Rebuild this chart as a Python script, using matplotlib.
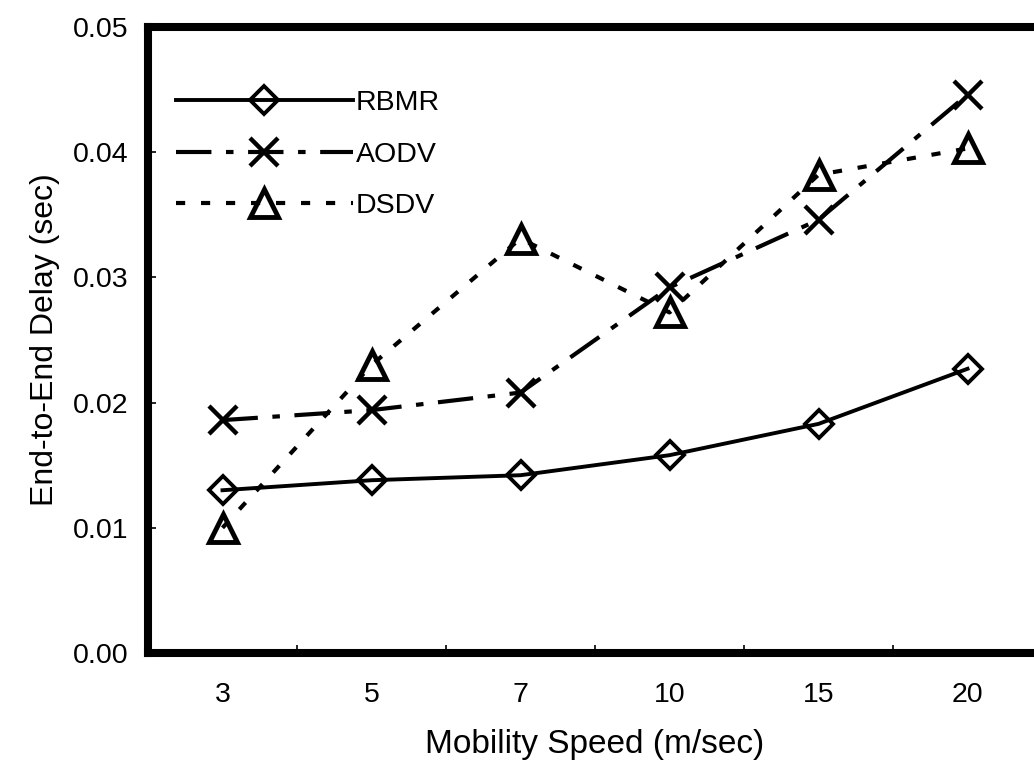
import matplotlib
matplotlib.use('Agg')
import matplotlib.pyplot as plt
from matplotlib.ticker import FixedLocator, FormatStrFormatter

speeds = ['3', '5', '7', '10', '15', '20']
rbmr = [0.0130, 0.0138, 0.0142, 0.0158, 0.0183, 0.0227]
aodv = [0.0186, 0.0194, 0.0208, 0.0292, 0.0346, 0.0446]
dsdv = [0.0100, 0.0230, 0.0331, 0.0272, 0.0382, 0.0403]

plt.rcParams['font.family'] = ['Liberation Sans', 'DejaVu Sans']

fig = plt.figure(figsize=(10.34, 7.67), dpi=100)
# right edge of the frame sits just past the picture, like the original crop
ax = fig.add_axes([148 / 1034, (767 - 653) / 767, (1042 - 148) / 1034, (653 - 27) / 767])

x = list(range(len(speeds)))
ax.plot(x, rbmr, color='black', lw=2.8, marker='D', ms=14, mfc='none', mew=2.8, label='RBMR')
ax.plot(x, aodv, color='black', lw=3, marker='x', ms=20, mew=3.2, dashes=(8.5, 3.5, 1.8, 3.5), label='AODV')
ax.plot(x, dsdv, color='black', lw=3, marker='^', ms=20, mfc='none', mew=3.5, dashes=(2.2, 3.8), label='DSDV')

ax.set_xlim(-0.5, len(speeds) - 0.5)
ax.set_ylim(0, 0.05)
ax.set_xticks(x)
ax.set_xticklabels(speeds)
ax.xaxis.set_minor_locator(FixedLocator([i + 0.5 for i in x[:-1]]))
ax.set_yticks([0, 0.01, 0.02, 0.03, 0.04, 0.05])
ax.yaxis.set_major_formatter(FormatStrFormatter('%.2f'))

ax.tick_params(axis='x', which='major', length=0, pad=21, labelsize=20.5)
ax.tick_params(axis='x', which='minor', direction='in', length=6, width=1.2)
ax.tick_params(axis='y', direction='in', length=6, width=1.2, pad=14, labelsize=20.5)

for s in ax.spines.values():
    s.set_linewidth(5.8)

ax.set_xlabel('Mobility Speed (m/sec)', fontsize=24, labelpad=15)
ax.set_ylabel('End-to-End Delay (sec)', fontsize=23, labelpad=9)

ax.legend(loc='upper left', bbox_to_anchor=(28 / 894, 1 - 63 / 626), frameon=False,
          fontsize=20.5, handlelength=6.2, handletextpad=0.12, labelspacing=0.9,
          borderpad=0, borderaxespad=0, numpoints=1)

fig.savefig('out.png', dpi=100)
